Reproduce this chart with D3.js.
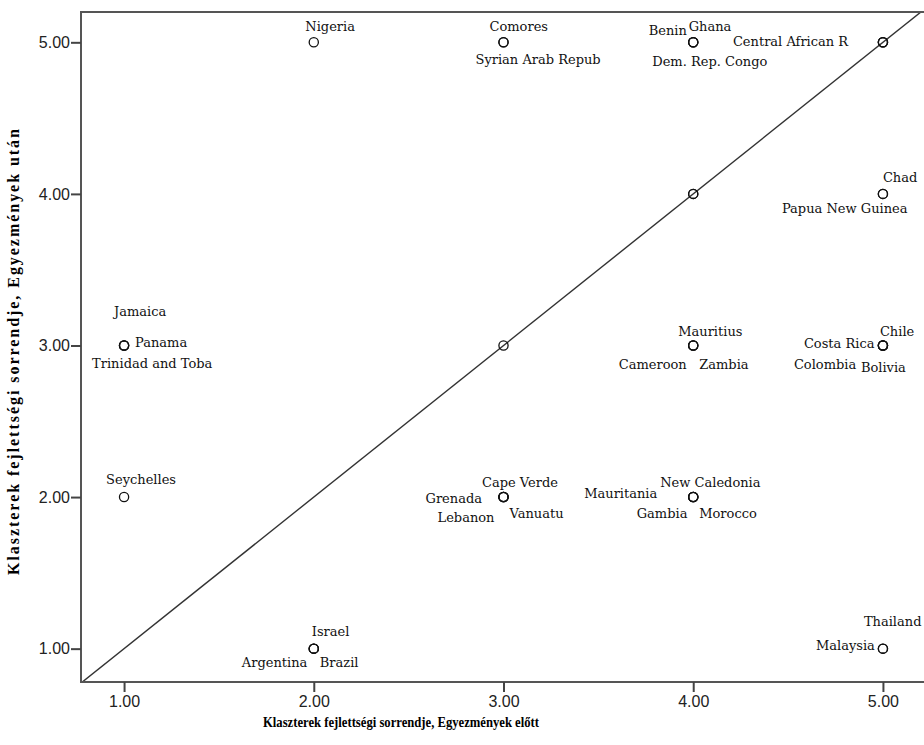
<!DOCTYPE html>
<html>
<head>
<meta charset="utf-8">
<script src="https://cdn.jsdelivr.net/npm/d3@7"></script>
<style>
  body { margin: 0; background: #fff; }
  svg { display: block; }
  .tick text { font-family: "Liberation Sans", Arial, sans-serif; font-size: 16px; fill: #222; }
  .tick line { stroke: #444; stroke-width: 2; }
  .lbl { font-family: "DejaVu Serif", serif; font-size: 13px; fill: #111; }
  .title { font-family: "Liberation Serif", serif; font-weight: bold; fill: #000; }
</style>
</head>
<body>
<svg width="924" height="745"></svg>
<script>
// country names, cluster rank before (x) and after (y) the agreements
const countries = [
  "Nigeria", "Comores", "Syrian Arab Repub", "Benin", "Ghana", "Dem. Rep. Congo",
  "Central African R", "Chad", "Papua New Guinea", "Jamaica", "Panama", "Trinidad and Toba",
  "Mauritius", "Cameroon", "Zambia", "Costa Rica", "Chile", "Colombia", "Bolivia",
  "Seychelles", "Cape Verde", "Grenada", "Lebanon", "Vanuatu",
  "New Caledonia", "Mauritania", "Gambia", "Morocco",
  "Israel", "Argentina", "Brazil", "Thailand", "Malaysia",
  "", "", "", "", ""
];
const before = [
  2, 3, 3, 4, 4, 4,
  5, 5, 5, 1, 1, 1,
  4, 4, 4, 5, 5, 5, 5,
  1, 3, 3, 3, 3,
  4, 4, 4, 4,
  2, 2, 2, 5, 5,
  3, 4, 4, 5, 5
];
const after = [
  5, 5, 5, 5, 5, 5,
  5, 4, 4, 3, 3, 3,
  3, 3, 3, 3, 3, 3, 3,
  2, 2, 2, 2, 2,
  2, 2, 2, 2,
  1, 1, 1, 1, 1,
  3, 4, 4, 5, 5
];
const ticks = [1, 2, 3, 4, 5];
const xTitle = "Klaszterek fejlettségi sorrendje, Egyezmények előtt";
const yTitle = "Klaszterek fejlettségi sorrendje, Egyezmények után";

// label placement relative to its point (px)
const labelPos = {
  "Nigeria": [-8.5, -11], "Comores": [-14, -11], "Syrian Arab Repub": [-28, 22],
  "Benin": [-44.5, -7], "Ghana": [-4.5, -11], "Dem. Rep. Congo": [-41, 23.5],
  "Central African R": [-150, 4], "Chad": [0, -12], "Papua New Guinea": [-101, 19],
  "Jamaica": [-10, -29], "Panama": [11, 2], "Trinidad and Toba": [-32, 23],
  "Mauritius": [-15, -9], "Cameroon": [-74.5, 24], "Zambia": [6, 24],
  "Costa Rica": [-79, 3], "Chile": [-3, -9], "Colombia": [-89, 24], "Bolivia": [-22, 27],
  "Seychelles": [-18, -13], "Cape Verde": [-21.5, -10], "Grenada": [-78, 6],
  "Lebanon": [-66, 25], "Vanuatu": [6, 21],
  "New Caledonia": [-33, -10], "Mauritania": [-109, 1], "Gambia": [-56.5, 21], "Morocco": [6, 21],
  "Israel": [-2, -13], "Argentina": [-72, 18], "Brazil": [6, 18],
  "Thailand": [-19, -22.5], "Malaysia": [-67, 1.5]
};

const data = countries.map((c, i) => ({ name: c, x: before[i], y: after[i] }));

const plotLeft = 81, plotRight = 926, plotTop = 12, plotBottom = 682;

const svg = d3.select("svg");

const xScale = d3.scaleLinear().domain([0.773, 5.227]).range([plotLeft, plotRight]);
const yScale = d3.scaleLinear().domain([0.78, 5.2]).range([plotBottom, plotTop]);

svg.append("defs").append("clipPath").attr("id", "plot")
  .append("rect")
  .attr("x", plotLeft).attr("y", plotTop)
  .attr("width", plotRight - plotLeft).attr("height", plotBottom - plotTop);

// y = x reference line
const lo = Math.max(xScale.domain()[0], yScale.domain()[0]);
const hi = Math.min(xScale.domain()[1], yScale.domain()[1]);
svg.append("line")
  .attr("clip-path", "url(#plot)")
  .attr("x1", xScale(lo - 0.1)).attr("y1", yScale(lo - 0.1))
  .attr("x2", xScale(hi + 0.1)).attr("y2", yScale(hi + 0.1))
  .attr("stroke", "#333").attr("stroke-width", 1.4);

// frame
svg.append("rect")
  .attr("x", plotLeft).attr("y", plotTop)
  .attr("width", plotRight - plotLeft).attr("height", plotBottom - plotTop)
  .attr("fill", "none").attr("stroke", "#555").attr("stroke-width", 2);

const xAxis = d3.axisBottom(xScale).tickValues(ticks).tickFormat(d3.format(".2f"))
  .tickSize(10).tickPadding(4);
svg.append("g")
  .attr("transform", `translate(0, ${plotBottom})`)
  .call(xAxis)
  .call((g) => g.select(".domain").remove());

const yAxis = d3.axisLeft(yScale).tickValues(ticks).tickFormat(d3.format(".2f"))
  .tickSize(10).tickPadding(1);
svg.append("g")
  .attr("transform", `translate(${plotLeft}, 0)`)
  .call(yAxis)
  .call((g) => g.select(".domain").remove());

svg.selectAll(".pt")
  .data(data)
  .enter()
  .append("circle")
  .attr("class", "pt")
  .attr("cx", (d) => xScale(d.x))
  .attr("cy", (d) => yScale(d.y))
  .attr("r", 4.6)
  .attr("fill", "none")
  .attr("stroke", "#111")
  .attr("stroke-width", 1.3);

svg.selectAll(".lbl")
  .data(data.filter((d) => d.name !== ""))
  .enter()
  .append("text")
  .attr("class", "lbl")
  .attr("x", (d) => xScale(d.x) + labelPos[d.name][0])
  .attr("y", (d) => yScale(d.y) + labelPos[d.name][1])
  .text((d) => d.name);

svg.append("text")
  .attr("class", "title")
  .attr("x", 401)
  .attr("y", 727)
  .attr("text-anchor", "middle")
  .style("font-size", "14.5px")
  .attr("textLength", 276)
  .attr("lengthAdjust", "spacingAndGlyphs")
  .text(xTitle);

svg.append("text")
  .attr("class", "title")
  .attr("transform", "translate(19, 352) rotate(-90)")
  .attr("text-anchor", "middle")
  .style("font-size", "16px")
  .attr("textLength", 446)
  .attr("lengthAdjust", "spacing")
  .text(yTitle);
</script>
</body>
</html>
